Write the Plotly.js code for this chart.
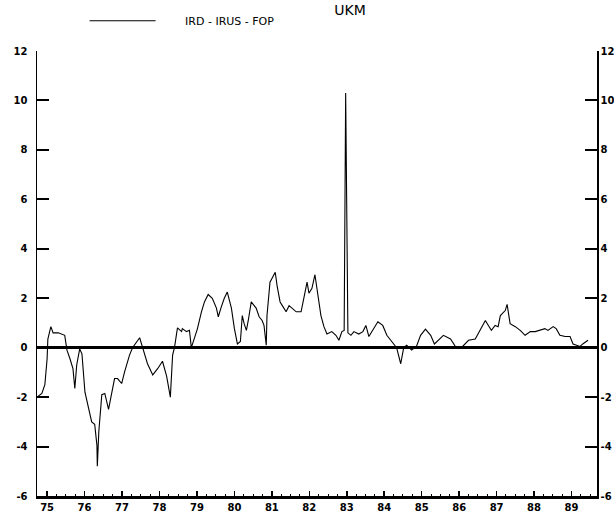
<!DOCTYPE html>
<html>
<head>
<meta charset="utf-8">
<script src="https://cdn.plot.ly/plotly-3.0.1.min.js"></script>
<style>html,body{margin:0;padding:0;background:#fff}#chart{width:614px;height:528px}</style>
</head>
<body>
<div id="chart"></div>
<script>
// Series IRD - IRUS - FOP for UKM (decimal year, value in percentage points)
const dates = [1974.73,1974.86,1974.94,1975.00,1975.02,1975.10,1975.16,1975.30,1975.47,1975.53,1975.61,1975.69,1975.74,1975.79,1975.87,1975.93,
1976.01,1976.09,1976.19,1976.27,1976.33,1976.34,1976.38,1976.46,1976.54,1976.64,1976.72,1976.80,1976.88,1976.99,
1977.07,1977.20,1977.28,1977.47,1977.55,1977.68,1977.82,1977.95,
1978.08,1978.19,1978.29,1978.35,1978.40,1978.45,1978.48,1978.59,1978.61,1978.72,1978.80,1978.85,1978.93,
1979.01,1979.12,1979.20,1979.30,1979.41,1979.52,1979.57,1979.65,1979.73,1979.81,1979.92,
1980.00,1980.08,1980.16,1980.21,1980.26,1980.32,1980.37,1980.45,1980.58,1980.66,1980.74,1980.79,1980.85,1980.87,1980.95,
1981.01,1981.09,1981.14,1981.22,1981.30,1981.38,1981.46,1981.54,1981.65,1981.78,1981.86,1981.94,1981.99,
1982.07,1982.15,1982.20,1982.31,1982.39,1982.47,1982.60,1982.71,1982.79,1982.87,1982.93,1982.97,1983.03,
1983.11,1983.19,1983.32,1983.43,1983.51,1983.59,1983.72,1983.83,1983.96,
1984.07,1984.20,1984.33,1984.44,1984.52,1984.60,1984.73,1984.86,1984.97,
1985.10,1985.24,1985.34,1985.45,1985.58,1985.77,1985.90,
1986.06,1986.25,1986.43,1986.57,1986.70,1986.78,1986.86,1986.96,
1987.04,1987.10,1987.23,1987.28,1987.36,1987.50,1987.63,1987.76,1987.90,
1988.03,1988.16,1988.29,1988.37,1988.51,1988.59,1988.69,1988.83,1988.96,
1989.04,1989.12,1989.23,1989.30,1989.44];
const spread = [-2.0,-1.85,-1.5,-0.45,0.35,0.85,0.6,0.6,0.5,-0.1,-0.45,-0.85,-1.65,-0.7,-0.05,-0.25,
-1.8,-2.3,-3.0,-3.1,-3.95,-4.8,-3.4,-1.9,-1.85,-2.5,-1.9,-1.25,-1.25,-1.45,
-0.97,-0.3,0.0,0.4,0.0,-0.65,-1.1,-0.85,
-0.55,-1.15,-2.0,-0.3,0.0,0.65,0.8,0.65,0.77,0.65,0.7,0.0,0.35,
0.75,1.45,1.85,2.15,2.0,1.6,1.25,1.65,2.0,2.25,1.6,
0.77,0.15,0.25,1.3,0.97,0.7,1.1,1.85,1.6,1.25,1.1,0.9,0.1,1.3,2.65,
2.8,3.05,2.5,1.85,1.65,1.45,1.7,1.6,1.45,1.45,2.1,2.65,2.2,
2.4,2.95,2.4,1.3,0.85,0.55,0.65,0.5,0.3,0.65,0.7,10.3,0.6,
0.5,0.65,0.55,0.65,0.9,0.45,0.77,1.05,0.9,
0.5,0.25,0.0,-0.65,0.0,0.1,-0.1,0.05,0.5,
0.75,0.5,0.15,0.3,0.5,0.35,0.05,
0.0,0.3,0.35,0.77,1.1,0.9,0.7,0.9,
0.85,1.3,1.5,1.75,0.97,0.85,0.7,0.5,0.65,
0.65,0.7,0.77,0.7,0.85,0.77,0.5,0.45,0.45,
0.15,0.1,0.05,0.15,0.3];

const yearTicks = [1975,1976,1977,1978,1979,1980,1981,1982,1983,1984,1985,1986,1987,1988,1989];
const yearLabels = ['75','76','77','78','79','80','81','82','83','84','85','86','87','88','89'];
const yTicks = [-6,-4,-2,0,2,4,6,8,10,12];
const yLabels = ['-6','-4','-2','0','2','4','6','8','10','12'];
const chartTitle = 'UKM';
const seriesName = 'IRD - IRUS - FOP';

const tickFont = {family: 'DejaVu Sans', size: 10, color: '#000', weight: 'bold'};
const pad = '\u00a0'.repeat(7);

const traces = [
  {x: dates, y: spread, type: 'scatter', mode: 'lines', name: pad + seriesName,
   line: {color: '#000', width: 1.1}, showlegend: true},
  {x: dates, y: spread, type: 'scatter', mode: 'lines', yaxis: 'y2',
   line: {color: 'rgba(0,0,0,0)', width: 0}, showlegend: false, hoverinfo: 'skip'}
];

const yBase = {
  range: [-6, 12], tickvals: yTicks, ticktext: yLabels, ticks: 'inside', ticklen: 12,
  tickwidth: 2, tickcolor: '#000', showline: true, linecolor: '#000', linewidth: 1.5,
  showgrid: false, tickfont: tickFont, fixedrange: true
};

const layout = {
  width: 614, height: 528,
  margin: {l: 37, r: 17, t: 51, b: 32, autoexpand: false},
  paper_bgcolor: '#fff', plot_bgcolor: '#fff',
  font: {family: 'DejaVu Sans', color: '#000'},
  title: {text: chartTitle, x: 0.57, xanchor: 'center', y: 0.99, yanchor: 'top',
          font: {family: 'DejaVu Sans', size: 14, color: '#000'}},
  showlegend: true,
  legend: {x: 0.085, y: 1.068, xanchor: 'left', yanchor: 'middle', orientation: 'h',
           bgcolor: 'rgba(0,0,0,0)', itemwidth: 66,
           font: {family: 'DejaVu Sans', size: 11, color: '#000'}},
  xaxis: {range: [1974.73, 1989.68], tickvals: yearTicks, ticktext: yearLabels,
          ticks: 'inside', ticklen: 5, tickwidth: 1.5, tickcolor: '#000',
          minor: {dtick: 0.25, tick0: 1975, ticks: 'inside', ticklen: 2.5, tickwidth: 1, tickcolor: '#000'},
          showline: true, linecolor: '#000', linewidth: 3, showgrid: false, zeroline: false,
          tickfont: tickFont, fixedrange: true},
  yaxis: Object.assign({}, yBase, {side: 'left', zeroline: true, zerolinecolor: '#000', zerolinewidth: 2.5, ticklabelstandoff: 6}),
  yaxis2: Object.assign({}, yBase, {side: 'right', overlaying: 'y', zeroline: false, ticklabelstandoff: 0})
};

Plotly.newPlot('chart', traces, layout, {staticPlot: true, displayModeBar: false});
</script>
</body>
</html>
